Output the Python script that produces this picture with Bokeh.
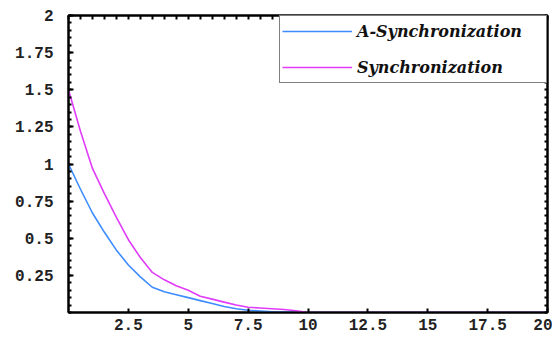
from bokeh.plotting import figure
from bokeh.models import LinearAxis, FixedTicker, Legend, LegendItem
from bokeh.embed import file_html
from bokeh.resources import INLINE

# ---- data ----
x_vals = [0, 0.5, 1, 1.5, 2, 2.5, 3, 3.5, 4, 4.5, 5, 5.5, 6, 6.5, 7, 7.5, 8, 8.5, 9, 9.5, 10, 20]
a_sync = [1.0, 0.83, 0.67, 0.54, 0.42, 0.32, 0.24, 0.17, 0.14, 0.12, 0.10, 0.08, 0.06, 0.04,
          0.025, 0.015, 0.01, 0.005, 0.003, 0.001, 0.0, 0.0]
sync = [1.5, 1.22, 0.97, 0.80, 0.64, 0.49, 0.37, 0.27, 0.22, 0.18, 0.15, 0.11, 0.09, 0.07,
        0.05, 0.035, 0.03, 0.025, 0.02, 0.012, 0.0, 0.0]

x_ticks = [2.5, 5, 7.5, 10, 12.5, 15, 17.5, 20]
x_tick_labels = ["2.5", "5", "7.5", "10", "12.5", "15", "17.5", "20"]
y_ticks = [0.25, 0.5, 0.75, 1, 1.25, 1.5, 1.75, 2]
y_tick_labels = ["0.25", "0.5", "0.75", "1", "1.25", "1.5", "1.75", "2"]
x_minor = [i * 0.5 for i in range(41)]
y_minor = [i * 0.05 for i in range(41)]

labels = ["A-Synchronization", "Synchronization"]
colors = ["#3d8cff", "#e03cf8"]

p = figure(width=552, height=338, x_range=(0, 20), y_range=(0, 2),
           x_axis_type=None, y_axis_type=None,
           output_backend="svg", toolbar_location=None,
           min_border_left=68, min_border_right=5, min_border_top=15, min_border_bottom=26)
p.xgrid.visible = False
p.ygrid.visible = False
p.outline_line_color = "black"
p.outline_line_width = 2
p.background_fill_color = "white"
p.border_fill_color = "white"

tick_font = dict(major_label_text_font="Liberation Mono",
                 major_label_text_font_style="bold",
                 major_label_text_font_size="16px",
                 major_label_text_color="#222222")

bottom = LinearAxis(ticker=FixedTicker(ticks=x_ticks, minor_ticks=[]),
                    major_label_overrides={t: l for t, l in zip(x_ticks, x_tick_labels)},
                    major_tick_in=4, major_tick_out=0, minor_tick_in=0, minor_tick_out=0,
                    major_label_standoff=6, axis_line_width=2, major_tick_line_width=2,
                    **tick_font)
left = LinearAxis(ticker=FixedTicker(ticks=y_ticks, minor_ticks=y_minor),
                  major_label_overrides={t: l for t, l in zip(y_ticks, y_tick_labels)},
                  major_tick_in=5, major_tick_out=0, minor_tick_in=3, minor_tick_out=0,
                  major_label_standoff=15, axis_line_width=2, major_tick_line_width=2,
                  minor_tick_line_width=2,
                  **tick_font)
# frame ticks on top and right: no labels, ticks only
top = LinearAxis(ticker=FixedTicker(ticks=[], minor_ticks=x_minor),
                 major_tick_in=0, major_tick_out=0, minor_tick_in=4, minor_tick_out=0,
                 axis_line_width=2, minor_tick_line_width=2)
right = LinearAxis(ticker=FixedTicker(ticks=[], minor_ticks=y_minor),
                   major_tick_in=0, major_tick_out=0, minor_tick_in=3, minor_tick_out=0,
                   axis_line_width=2, minor_tick_line_width=2)
p.add_layout(bottom, "below")
p.add_layout(left, "left")
p.add_layout(top, "above")
p.add_layout(right, "right")

r1 = p.line(x_vals, a_sync, line_color=colors[0], line_width=1.6)
r2 = p.line(x_vals, sync, line_color=colors[1], line_width=1.6)

legend = Legend(items=[LegendItem(label=labels[0], renderers=[r1]),
                       LegendItem(label=labels[1], renderers=[r2])],
                location="top_right", margin=0, padding=2, spacing=10,
                label_height=26, glyph_height=26, glyph_width=70,
                label_width=187, label_standoff=5,
                label_text_font="DejaVu Serif", label_text_font_style="bold italic",
                label_text_font_size="16px", label_text_color="#111111",
                border_line_color="black", border_line_width=1.5,
                background_fill_color="white", background_fill_alpha=1)
p.add_layout(legend)

open("out.html", "w").write(file_html(p, INLINE))
